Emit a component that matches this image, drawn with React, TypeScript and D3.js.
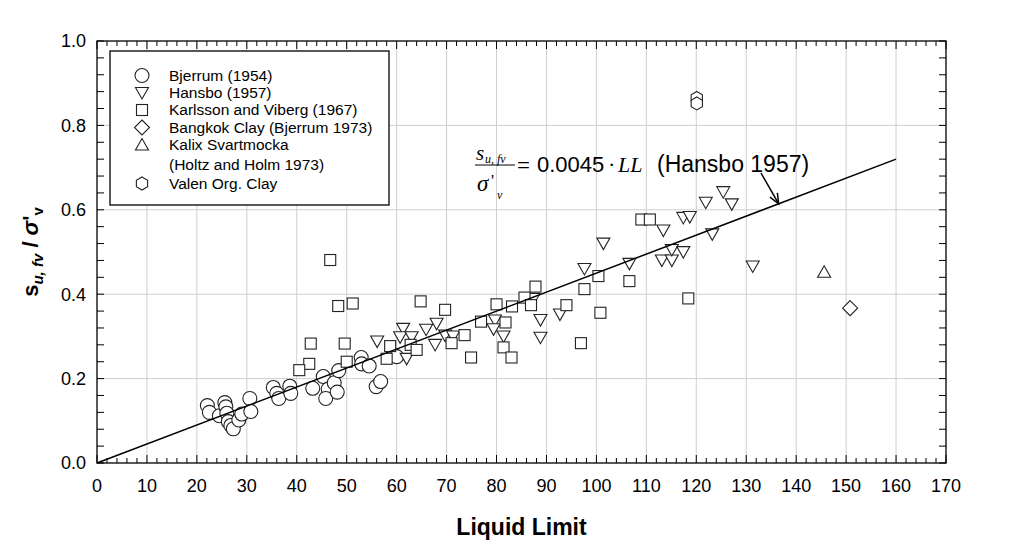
import * as d3 from 'd3';

type Pt = [number, number];

// Bjerrum (1954) – circles
const bjerrum: Pt[] = [
  [22.1, 0.136], [22.5, 0.12], [24.5, 0.112], [25.6, 0.143], [25.8, 0.133], [26.0, 0.118],
  [26.3, 0.098], [26.8, 0.089], [27.3, 0.081], [28.4, 0.102], [29.0, 0.116], [30.6, 0.153],
  [30.8, 0.122], [35.3, 0.179], [36.0, 0.165], [36.4, 0.153], [38.6, 0.182], [38.8, 0.165],
  [43.2, 0.177], [45.3, 0.205], [46.3, 0.175], [45.8, 0.153], [47.5, 0.19], [48.1, 0.168],
  [48.4, 0.219], [52.9, 0.25], [53.0, 0.235], [54.5, 0.23], [55.9, 0.181], [56.8, 0.193],
  [60.0, 0.252],
];

// Hansbo (1957) – inverted triangles
const hansbo: Pt[] = [
  [56.1, 0.289], [61.3, 0.319], [60.7, 0.299], [63.0, 0.299], [62.0, 0.248], [65.9, 0.317],
  [68.0, 0.331], [67.7, 0.281], [69.7, 0.303], [71.3, 0.301], [79.7, 0.339], [79.4, 0.318],
  [81.4, 0.301], [87.4, 0.39], [88.8, 0.34], [88.8, 0.298], [92.7, 0.353], [97.6, 0.461],
  [101.4, 0.521], [106.6, 0.473], [113.4, 0.552], [113.1, 0.481], [115.1, 0.481], [115.1, 0.506],
  [117.4, 0.501], [117.4, 0.582], [118.7, 0.584], [121.9, 0.618], [125.4, 0.643], [127.1, 0.614],
  [123.2, 0.543], [131.3, 0.467],
];

// Karlsson and Viberg (1967) – squares
const karlsson: Pt[] = [
  [46.7, 0.481], [48.3, 0.372], [51.2, 0.378], [42.8, 0.283], [49.6, 0.283], [42.5, 0.235],
  [40.5, 0.22], [50.0, 0.24], [64.8, 0.383], [58.7, 0.277], [58.0, 0.247], [62.8, 0.28],
  [64.0, 0.268], [69.7, 0.363], [87.8, 0.418], [85.6, 0.392], [86.9, 0.374], [80.0, 0.376],
  [83.1, 0.371], [97.6, 0.412], [100.4, 0.443], [106.6, 0.431], [94.0, 0.374], [100.8, 0.356],
  [76.9, 0.335], [81.8, 0.333], [73.6, 0.303], [71.0, 0.284], [81.4, 0.274], [83.0, 0.25],
  [74.9, 0.25], [96.9, 0.284], [109.0, 0.577], [110.7, 0.577], [118.4, 0.39],
];

const bangkok: Pt[] = [[150.8, 0.367]];
const kalix: Pt[] = [[145.6, 0.452]];
const valen: Pt[] = [[120.1, 0.865], [120.1, 0.852]];

const xTickLabels = d3.range(0, 171, 10);
const yTickLabels = [0, 0.2, 0.4, 0.6, 0.8, 1.0];
const xMinor = d3.range(0, 171, 2);
const yMinor = d3.range(0, 1.001, 0.04);

const slope = 0.0045;
const fitRange = [0, 160];
const arrowAt = 136.5;

const W = 1024;
const H = 546;
const margin = { top: 41, right: 78, bottom: 83, left: 97 };

const SANS = '"Liberation Sans", Arial, sans-serif';
const SERIF = '"Liberation Serif", "Times New Roman", serif';
const STROKE = '#222';

type Shape = 'circle' | 'tdown' | 'square' | 'diamond' | 'tup' | 'hex';

function Marker({ shape, cx, cy }: { shape: Shape; cx: number; cy: number }) {
  const common = { fill: '#fff', stroke: STROKE, strokeWidth: 1.1 };
  if (shape === 'circle') return <circle cx={cx} cy={cy} r={7} {...common} />;
  if (shape === 'square') return <rect x={cx - 5.5} y={cy - 5.5} width={11} height={11} {...common} />;
  let pts: [number, number][] = [];
  if (shape === 'tdown') pts = [[cx - 6.5, cy - 5], [cx + 6.5, cy - 5], [cx, cy + 6.5]];
  if (shape === 'tup') pts = [[cx - 6.5, cy + 5], [cx + 6.5, cy + 5], [cx, cy - 6.5]];
  if (shape === 'diamond') pts = [[cx, cy - 7.5], [cx + 7.5, cy], [cx, cy + 7.5], [cx - 7.5, cy]];
  if (shape === 'hex')
    pts = d3.range(6).map((i) => {
      const a = (Math.PI / 3) * i - Math.PI / 2;
      return [cx + 6.5 * Math.cos(a), cy + 6.5 * Math.sin(a)] as [number, number];
    });
  return <path d={'M' + pts.map((p) => p.join(',')).join('L') + 'Z'} {...common} />;
}

const series: { name: string; shape: Shape; data: Pt[] }[] = [
  { name: 'Bjerrum (1954)', shape: 'circle', data: bjerrum },
  { name: 'Hansbo (1957)', shape: 'tdown', data: hansbo },
  { name: 'Karlsson and Viberg (1967)', shape: 'square', data: karlsson },
  { name: 'Bangkok Clay (Bjerrum 1973)', shape: 'diamond', data: bangkok },
  { name: 'Kalix Svartmocka', shape: 'tup', data: kalix },
  { name: 'Valen Org. Clay', shape: 'hex', data: valen },
];

export default function App() {
  const x = d3.scaleLinear().domain([0, 170]).range([margin.left, W - margin.right]);
  const y = d3.scaleLinear().domain([0, 1]).range([H - margin.bottom, margin.top]);
  const x0 = x(0), x1 = x(170), y0 = y(0), y1 = y(1);

  const fitLine = d3.line<number>().x((d) => x(d)).y((d) => y(slope * d))(fitRange) ?? '';

  const tipX = x(arrowAt);
  const tipY = y(slope * arrowAt);
  const ang = Math.atan2(tipY - 173, tipX - 761);

  const legendRows = [75.5, 92.5, 110, 127.5, 145, 183.5];

  return (
    <svg width={W} height={H} style={{ position: 'absolute', left: 0, top: 0, background: '#fff' }}>
      {/* grid */}
      <g stroke="#cfcfcf" strokeWidth={1}>
        {xTickLabels.slice(1, -1).map((v) => (
          <line key={'gx' + v} x1={x(v)} x2={x(v)} y1={y1} y2={y0} />
        ))}
        {yTickLabels.slice(1, -1).map((v) => (
          <line key={'gy' + v} x1={x0} x2={x1} y1={y(v)} y2={y(v)} />
        ))}
      </g>

      {/* ticks, inward on all four sides */}
      <g stroke="#000" strokeWidth={1}>
        {xMinor.map((v) => {
          const len = v % 10 === 0 ? 8 : 5;
          return (
            <g key={'tx' + v}>
              <line x1={x(v)} x2={x(v)} y1={y0} y2={y0 - len} />
              <line x1={x(v)} x2={x(v)} y1={y1} y2={y1 + len} />
            </g>
          );
        })}
        {yMinor.map((v, i) => (
          <g key={'ty' + i}>
            <line x1={x0} x2={x0 + 7} y1={y(v)} y2={y(v)} />
            <line x1={x1} x2={x1 - 7} y1={y(v)} y2={y(v)} />
          </g>
        ))}
      </g>

      {/* tick labels */}
      <g fontFamily={SANS} fontSize={18} fill="#000">
        {xTickLabels.map((v) => (
          <text key={'lx' + v} x={x(v)} y={y0 + 29} textAnchor="middle">
            {v}
          </text>
        ))}
        {yTickLabels.map((v) => (
          <text key={'ly' + v} x={x0 - 11} y={y(v)} dy="0.35em" textAnchor="end">
            {v.toFixed(1)}
          </text>
        ))}
      </g>

      {/* legend */}
      <rect x={110} y={51} width={279} height={154} fill="#fff" stroke="#000" strokeWidth={1.3} />
      {series.map((s, i) => (
        <g key={s.name}>
          <Marker shape={s.shape} cx={142} cy={legendRows[i]} />
          <text x={169} y={legendRows[i]} dy="0.35em" fontFamily={SANS} fontSize={15.5}>
            {s.name}
          </text>
        </g>
      ))}
      <text x={169} y={164.5} dy="0.35em" fontFamily={SANS} fontSize={15.5}>
        (Holtz and Holm 1973)
      </text>

      {/* data */}
      {series.map((s) =>
        s.data.map((d, i) => <Marker key={s.name + i} shape={s.shape} cx={x(d[0])} cy={y(d[1])} />)
      )}

      {/* Hansbo fit line */}
      <path d={fitLine} fill="none" stroke="#000" strokeWidth={1.5} />

      {/* frame */}
      <rect x={x0} y={y1} width={x1 - x0} height={y0 - y1} fill="none" stroke="#000" strokeWidth={1.3} />

      {/* equation */}
      <g fill="#000">
        <text x={476} y={160} fontFamily={SERIF} fontStyle="italic" fontSize={21}>s</text>
        <text x={485} y={163} fontFamily={SERIF} fontStyle="italic" fontSize={12}>u, fv</text>
        <line x1={475} x2={515} y1={165} y2={165} stroke="#000" strokeWidth={1} />
        <text x={477} y={191} fontFamily={SERIF} fontStyle="italic" fontSize={23}>σ</text>
        <text x={491} y={186} fontFamily={SERIF} fontSize={17}>'</text>
        <text x={497} y={199} fontFamily={SERIF} fontStyle="italic" fontSize={12}>v</text>
        <text x={517} y={173} fontFamily={SERIF} fontSize={23}>=</text>
        <text x={537} y={172} fontFamily={SANS} fontSize={22}>0.0045</text>
        <text x={608} y={172} fontFamily={SERIF} fontSize={22}>·</text>
        <text x={618} y={172} fontFamily={SERIF} fontStyle="italic" fontSize={22}>LL</text>
        <text x={657} y={172} fontFamily={SANS} fontSize={23}>(Hansbo 1957)</text>
      </g>

      {/* arrow */}
      <g stroke="#000" strokeWidth={1.5} fill="none">
        <line x1={761} y1={173} x2={tipX} y2={tipY} />
        <path
          d={`M${tipX - 11 * Math.cos(ang - 0.4)},${tipY - 11 * Math.sin(ang - 0.4)}L${tipX},${tipY}L${
            tipX - 11 * Math.cos(ang + 0.4)
          },${tipY - 11 * Math.sin(ang + 0.4)}`}
        />
      </g>

      {/* axis titles */}
      <text x={(x0 + x1) / 2} y={535} textAnchor="middle" fontFamily={SANS} fontWeight="bold" fontSize={23}>
        Liquid Limit
      </text>
      <text
        transform={`translate(38, ${(y0 + y1) / 2}) rotate(-90)`}
        textAnchor="middle"
        fontFamily={SANS}
        fontWeight="bold"
        fontSize={22}
      >
        <tspan>s</tspan>
        <tspan fontSize={15} fontStyle="italic" dy={5}>u, fv</tspan>
        <tspan dy={-5}> / </tspan>
        <tspan fontStyle="italic">σ</tspan>
        <tspan>'</tspan>
        <tspan fontSize={15} dy={5}>v</tspan>
      </text>
    </svg>
  );
}
